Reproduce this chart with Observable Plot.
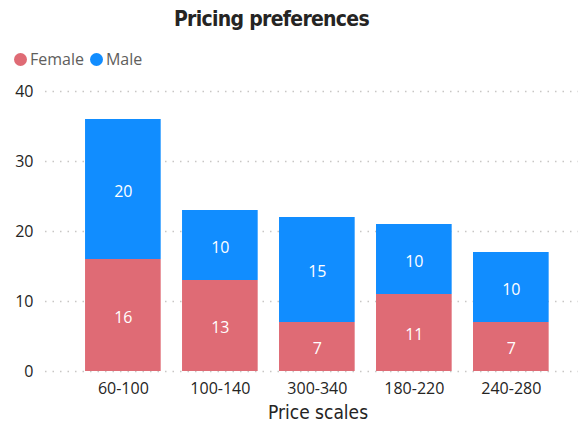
<!DOCTYPE html>
<html>
<head>
<meta charset="utf-8">
<script src="https://cdn.jsdelivr.net/npm/d3@7"></script>
<script src="https://cdn.jsdelivr.net/npm/@observablehq/plot@0.6"></script>
<style>
  body { margin: 0; background: #fff; width: 583px; height: 428px; overflow: hidden; }
  #title { height: 38px; line-height: 38px; text-align: center; padding-right: 40px; letter-spacing: -0.7px;
    font-family: "DejaVu Sans Condensed", "DejaVu Sans", sans-serif; font-weight: bold; font-size: 21px; color: #252423; }
  #legend { height: 42px; display: flex; align-items: center; padding-left: 14px;
    font-family: "Open Sans", sans-serif; font-size: 16px; color: #605E5C; }
  .item { display: flex; align-items: center; margin-right: 6px; }
  .dot { width: 13px; height: 13px; border-radius: 50%; margin-right: 3px; }
</style>
</head>
<body>
<div id="title">Pricing preferences</div>
<div id="legend"></div>
<div id="chart"></div>
<script>
const categories = ["60-100", "100-140", "300-340", "180-220", "240-280"];
const series = ["Female", "Male"];
const female = [16, 13, 7, 11, 7];
const male = [20, 10, 15, 10, 10];
const yTicks = [0, 10, 20, 30, 40];
const colors = ["#DF6B75", "#118DFF"];

const rows = [];
categories.forEach((c, i) => rows.push({cat: c, gender: "Female", value: female[i]}));
categories.forEach((c, i) => rows.push({cat: c, gender: "Male", value: male[i]}));

const legend = document.getElementById("legend");
series.forEach((s, i) => {
  const it = document.createElement("div");
  it.className = "item";
  it.innerHTML = `<span class="dot" style="background:${colors[i]}"></span><span>${s}</span>`;
  legend.appendChild(it);
});

const chart = Plot.plot({
  width: 583,
  height: 348,
  marginLeft: 45,
  marginRight: 5,
  marginTop: 11,
  marginBottom: 57,
  style: {fontFamily: "Open Sans, sans-serif", fontSize: "16px", color: "#252423", background: "#fff"},
  x: {domain: categories, range: [63.7, 570], padding: 0.22, round: false, label: null},
  y: {domain: [0, 40], ticks: yTicks, label: null},
  color: {domain: series, range: colors},
  marks: [
    Plot.ruleY(yTicks, {stroke: "#C8C6C4", strokeWidth: 1.5, strokeDasharray: "1.5,6"}),
    Plot.barY(rows, {x: "cat", y: "value", fill: "gender", z: "gender"}),
    Plot.text(rows, Plot.stackY({x: "cat", y: "value", z: "gender", text: d => String(d.value), fill: "#fff", fontSize: 16, dy: 2})),
    Plot.axisY({ticks: yTicks, tickSize: 0, tickPadding: 12, fontSize: 16, label: null}),
    Plot.axisX({tickSize: 0, tickPadding: 11, fontSize: 16, label: null}),
    Plot.text(["Price scales"], {frameAnchor: "bottom", dx: 6, dy: 47, fontFamily: "DejaVu Sans Condensed, DejaVu Sans, sans-serif", fontSize: 19, fill: "#252423"})
  ]
});
document.getElementById("chart").appendChild(chart);
</script>
</body>
</html>
